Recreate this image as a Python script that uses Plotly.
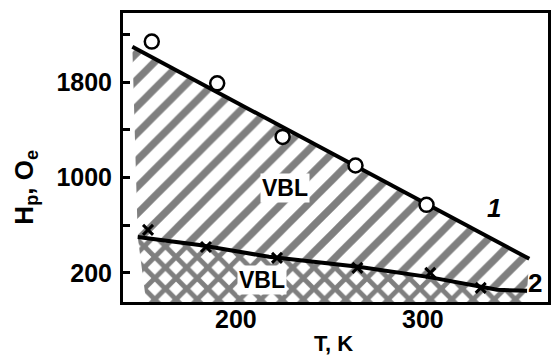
import plotly.graph_objects as go

# ---- data ----
T_circles = [155, 190, 225, 264, 302]
H_circles = [2140, 1790, 1340, 1100, 770]

T_line1 = [144.6, 357.0]
H_line1 = [2096, 317]

T_line2 = [147.5, 180.5, 217.7, 265.5, 302.7, 339.8, 355.8]
H_line2 = [501, 434, 334, 250, 166, 57, 49]

T_crosses = [153, 184, 222, 265, 304, 331]
H_crosses = [560, 417, 325, 241, 199, 74]

y_ticks = [200, 600, 1000, 1400, 1800, 2200]
y_ticktext = ["200", "", "1000", "", "1800", ""]
x_ticks = [200, 300]
x_ticktext = ["200", "300"]

X_RANGE = [139.6, 367.0]
Y_RANGE = [-45, 2380]

FONT = "Liberation Sans"

fig = go.Figure()

# region between curve 1 and curve 2 : single hatching
reg1_x = T_line1 + T_line2[::-1]
reg1_y = H_line1 + H_line2[::-1]
fig.add_trace(go.Scatter(
    x=reg1_x, y=reg1_y, mode="lines", fill="toself",
    line=dict(width=0, color="rgba(0,0,0,0)"),
    fillcolor="white",
    fillpattern=dict(shape="/", size=19, solidity=0.38, fgcolor="black", bgcolor="white"),
    hoverinfo="skip", showlegend=False))

# region below curve 2 : cross hatching
reg2_x = T_line2 + [T_line2[-1], 152]
reg2_y = H_line2 + [Y_RANGE[0], Y_RANGE[0]]
fig.add_trace(go.Scatter(
    x=reg2_x, y=reg2_y, mode="lines", fill="toself",
    line=dict(width=0, color="rgba(0,0,0,0)"),
    fillcolor="white",
    fillpattern=dict(shape="x", size=15, solidity=0.55, fgcolor="black", bgcolor="white"),
    hoverinfo="skip", showlegend=False))

# curve 1
fig.add_trace(go.Scatter(x=T_line1, y=H_line1, mode="lines",
                         line=dict(color="black", width=4), showlegend=False))
# curve 2
fig.add_trace(go.Scatter(x=T_line2, y=H_line2, mode="lines",
                         line=dict(color="black", width=4), showlegend=False))
# crosses
fig.add_trace(go.Scatter(x=T_crosses, y=H_crosses, mode="markers",
                         marker=dict(symbol="x-thin", size=10, line=dict(color="black", width=3)),
                         showlegend=False))
# circles
fig.add_trace(go.Scatter(x=T_circles, y=H_circles, mode="markers",
                         marker=dict(symbol="circle", size=14, color="white",
                                     line=dict(color="black", width=2.5)),
                         showlegend=False))

ann_font = dict(family=FONT, size=23, color="black", weight="bold")
fig.add_annotation(x=226.5, y=912, text="VBL", showarrow=False, font=ann_font,
                   bgcolor="white")
fig.add_annotation(x=214, y=141, text="VBL", showarrow=False, font=ann_font,
                   bgcolor="white")
fig.add_annotation(x=338, y=742, text="<i>1</i>", showarrow=False,
                   font=dict(family=FONT, size=26, color="black", weight="bold"))
fig.add_annotation(x=360, y=116, text="2", showarrow=False,
                   font=dict(family=FONT, size=26, color="black", weight="bold"))

# x tick labels (placed at the tick values, slightly closer to the axis)
for tv, tt in zip(x_ticks, x_ticktext):
    fig.add_annotation(x=tv, xref="x", yref="paper", y=-0.059,
                       xanchor="center", yanchor="middle", text=tt, showarrow=False,
                       font=dict(family=FONT, size=25, color="black", weight="bold"))

# axis titles
fig.add_annotation(xref="paper", yref="paper", x=0.495, y=-0.142,
                   xanchor="center", yanchor="middle",
                   text="T, K", showarrow=False,
                   font=dict(family=FONT, size=22, color="black", weight="bold"))
fig.add_annotation(xref="paper", yref="paper", x=-0.229, y=0.398,
                   xanchor="center", yanchor="middle",
                   text="H<sub>p</sub>, O<sub>e</sub>", textangle=-90, showarrow=False,
                   font=dict(family=FONT, size=26, color="black", weight="bold"))

fig.update_xaxes(range=X_RANGE, tickvals=x_ticks, showticklabels=False,
                 showgrid=False, zeroline=False, showline=True, mirror=True,
                 linecolor="black", linewidth=3, ticks="")
fig.update_yaxes(range=Y_RANGE, tickvals=y_ticks, ticktext=y_ticktext,
                 showgrid=False, zeroline=False, showline=True, mirror=True,
                 linecolor="black", linewidth=3, ticks="inside", ticklen=7,
                 tickwidth=2.5, tickcolor="black", ticklabelstandoff=3,
                 tickfont=dict(family=FONT, size=25, color="black", weight="bold"))

fig.update_layout(width=553, height=356,
                  margin=dict(l=123, r=2, t=13, b=54),
                  paper_bgcolor="white", plot_bgcolor="white")

fig.write_html("out.html")
